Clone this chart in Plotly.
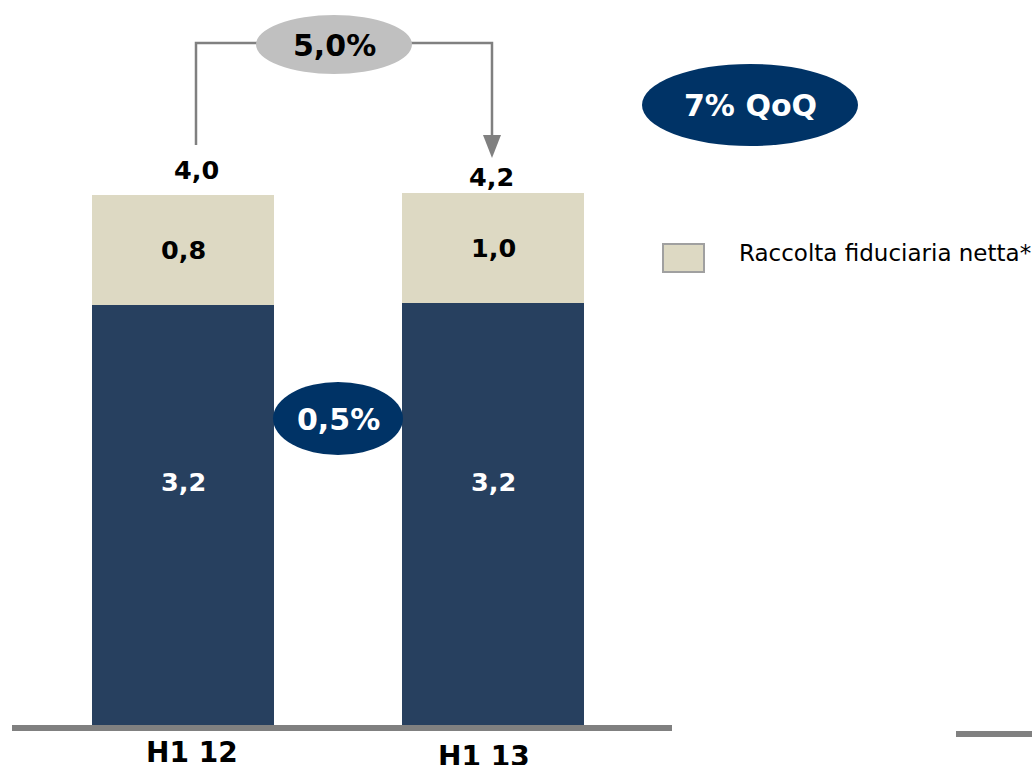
import plotly.graph_objects as go

# data
periods = ["H1 12", "H1 13"]
base_vals = [3.2, 3.215]          # dark segment (bar heights as drawn)
fid_vals = [0.84, 0.84]           # Raccolta fiduciaria netta* (as drawn)
base_labels = ["3,2", "3,2"]
fid_labels = ["0,8", "1,0"]
total_labels = ["4,0", "4,2"]
growth_label = "5,0%"
base_growth_label = "0,5%"
qoq_label = "7% QoQ"
legend_name = "Raccolta fiduciaria netta*"

W, H = 1032, 765
NAVY_BAR = "#27405F"
NAVY = "#003366"
BEIGE = "#DDD9C3"
GREY = "#808080"
FONT = "DejaVu Sans"


def px(x):
    return x / W


def py(y):
    return 1 - y / H


def label(x, y, text, size, color="black", xref="paper", yref="paper", bold=True):
    return dict(x=x, y=y, xref=xref, yref=yref, xanchor="center", yanchor="middle",
                text="<b>%s</b>" % text if bold else text, showarrow=False,
                font=dict(size=size, color=color, family=FONT))


xs = [0, 1]
fig = go.Figure()
fig.add_trace(go.Bar(x=xs, y=base_vals, width=0.587, marker_color=NAVY_BAR,
                     marker_line_width=0, showlegend=False, hoverinfo="skip"))
fig.add_trace(go.Bar(x=xs, y=fid_vals, width=0.587, marker_color=BEIGE,
                     marker_line_width=0, showlegend=False, hoverinfo="skip"))

ann = []
for i, x in enumerate(xs):
    ann.append(label(x, py(482), base_labels[i], 25.5, "white", xref="x"))
    ann.append(label(x, base_vals[i] + fid_vals[i] / 2, fid_labels[i], 25.5, xref="x", yref="y"))
ann.append(label(px(196), py(170), total_labels[0], 25.5))
ann.append(label(px(491), py(177), total_labels[1], 25.5))
ann.append(label(px(192), py(752), periods[0], 28))
ann.append(label(px(484), py(756), periods[1], 28))
ann.append(label(px(334), py(45), growth_label, 30))
ann.append(label(px(338), py(419), base_growth_label, 30, "white"))
ann.append(label(px(750), py(106), qoq_label, 30, "white"))
leg = label(px(737), py(253), legend_name, 23, bold=False)
leg["xanchor"] = "left"
ann.append(leg)

shapes = [
    # baseline
    dict(type="line", xref="paper", yref="paper", x0=px(12), x1=px(672), y0=py(728), y1=py(728),
         line=dict(color=GREY, width=6)),
    dict(type="line", xref="paper", yref="paper", x0=px(956), x1=px(1032), y0=py(734), y1=py(734),
         line=dict(color=GREY, width=6)),
    # connector
    dict(type="path", xref="paper", yref="paper",
         path="M %f %f L %f %f L %f %f" % (px(196), py(145), px(196), py(43), px(258), py(43)),
         line=dict(color=GREY, width=2.5)),
    dict(type="path", xref="paper", yref="paper",
         path="M %f %f L %f %f L %f %f" % (px(410), py(43), px(492), py(43), px(492), py(140)),
         line=dict(color=GREY, width=2.5)),
    dict(type="path", xref="paper", yref="paper",
         path="M %f %f L %f %f L %f %f Z" % (px(483), py(135), px(501), py(135), px(492), py(158)),
         fillcolor=GREY, line_width=0),
    # ellipses
    dict(type="circle", xref="paper", yref="paper", x0=px(256), x1=px(412), y0=py(15), y1=py(74),
         fillcolor="#C0C0C0", line_width=0),
    dict(type="circle", xref="paper", yref="paper", x0=px(642), x1=px(858), y0=py(64), y1=py(146),
         fillcolor=NAVY, line_width=0),
    dict(type="circle", xref="paper", yref="paper", x0=px(273), x1=px(403), y0=py(382), y1=py(455),
         fillcolor=NAVY, line_width=0),
    # legend swatch
    dict(type="rect", xref="paper", yref="paper", x0=px(663), x1=px(704), y0=py(244), y1=py(272),
         fillcolor=BEIGE, line=dict(color="#A0A0A0", width=2)),
]

fig.update_layout(
    barmode="stack", width=W, height=H, margin=dict(l=0, r=0, t=0, b=0),
    paper_bgcolor="white", plot_bgcolor="white",
    xaxis=dict(range=[-183 / 310, (W - 183) / 310], visible=False, fixedrange=True),
    yaxis=dict(range=[-(H - 725) / 131.25, 725 / 131.25], visible=False, fixedrange=True),
    annotations=ann, shapes=shapes, showlegend=False,
)

fig.write_html("out.html", config={"displayModeBar": False},
               post_script="document.body.style.margin='0';")
